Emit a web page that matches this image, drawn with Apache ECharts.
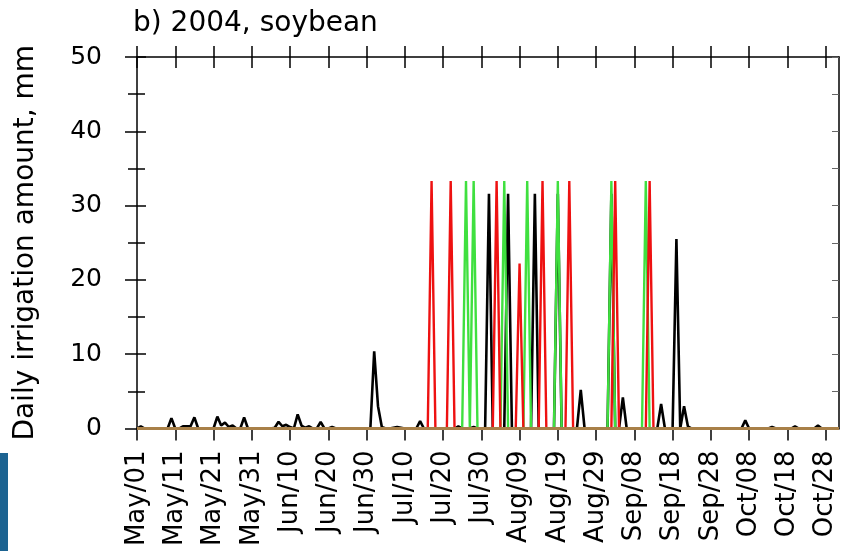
<!DOCTYPE html>
<html>
<head>
<meta charset="utf-8">
<script src="https://cdn.jsdelivr.net/npm/echarts@6/dist/echarts.min.js"></script>
<style>
  html, body { margin: 0; padding: 0; background: #fff; }
  #main { width: 849px; height: 551px; }
</style>
</head>
<body>
<div id="main"></div>
<script>
// tick labels, one every 10 days starting May/01 (day 0)
var tickLabels = ['May/01','May/11','May/21','May/31','Jun/10','Jun/20','Jun/30','Jul/10','Jul/20','Jul/30',
                  'Aug/09','Aug/19','Aug/29','Sep/08','Sep/18','Sep/28','Oct/08','Oct/18','Oct/28'];

// daily irrigation, mm, May/01 .. Oct/31 (184 days), 10 per row
var blackIrr = [
  0, 0.3, 0, 0, 0, 0, 0, 0, 0, 1.4,
  0, 0, 0.3, 0.3, 0.3, 1.5, 0, 0, 0, 0,
  0, 1.6, 0.4, 0.8, 0.2, 0.4, 0, 0, 1.5, 0,
  0, 0, 0, 0, 0, 0, 0.1, 0.9, 0.3, 0.5,
  0.2, 0, 1.9, 0.4, 0.1, 0.3, 0, 0, 0.9, 0,
  0, 0.2, 0, 0, 0, 0, 0, 0, 0, 0,
  0, 0, 10.4, 3.0, 0.2, 0, 0, 0.1, 0.2, 0.1,
  0, 0, 0, 0, 1.0, 0, 0, 0, 0, 0,
  0, 0, 0, 0, 0.3, 0, 0, 0, 0.2, 0,
  0, 0, 31.6, 0, 0, 0, 0, 31.6, 0, 0,
  0, 0, 0, 0, 31.6, 0, 0, 0, 0, 0,
  31.6, 0, 0, 0, 0, 0, 5.2, 0, 0, 0,
  0, 0, 0, 0, 31.6, 0, 0, 4.2, 0, 0,
  0, 0, 0, 0, 0, 0, 0, 3.3, 0, 0,
  0, 25.5, 0, 3.0, 0.3, 0, 0, 0, 0, 0,
  0, 0, 0, 0, 0, 0, 0, 0, 0, 1.1,
  0, 0, 0, 0, 0, 0, 0.2, 0, 0, 0,
  0, 0, 0.3, 0, 0, 0, 0, 0, 0.4, 0,
  0, 0, 0, 0
];
var greenIrr = [
  0, 0, 0, 0, 0, 0, 0, 0, 0, 0,
  0, 0, 0, 0, 0, 0, 0, 0, 0, 0,
  0, 0, 0, 0, 0, 0, 0, 0, 0, 0,
  0, 0, 0, 0, 0, 0, 0, 0, 0, 0,
  0, 0, 0, 0, 0, 0, 0, 0, 0, 0,
  0, 0, 0, 0, 0, 0, 0, 0, 0, 0,
  0, 0, 0, 0, 0, 0, 0, 0, 0, 0,
  0, 0, 0, 0, 0, 0, 0, 0, 0, 0,
  0, 0, 0, 0, 0, 0, 33.3, 0, 33.3, 0,
  0, 0, 0, 0, 0, 0, 33.3, 0, 0, 0,
  0, 0, 33.3, 0, 0, 0, 0, 0, 0, 0,
  33.3, 0, 0, 0, 0, 0, 0, 0, 0, 0,
  0, 0, 0, 0, 33.3, 0, 0, 0, 0, 0,
  0, 0, 0, 33.3, 0, 0, 0, 0, 0, 0,
  0, 0, 0, 0, 0, 0, 0, 0, 0, 0,
  0, 0, 0, 0, 0, 0, 0, 0, 0, 0,
  0, 0, 0, 0, 0, 0, 0, 0, 0, 0,
  0, 0, 0, 0, 0, 0, 0, 0, 0, 0,
  0, 0, 0, 0
];
var redIrr = [
  0, 0, 0, 0, 0, 0, 0, 0, 0, 0,
  0, 0, 0, 0, 0, 0, 0, 0, 0, 0,
  0, 0, 0, 0, 0, 0, 0, 0, 0, 0,
  0, 0, 0, 0, 0, 0, 0, 0, 0, 0,
  0, 0, 0, 0, 0, 0, 0, 0, 0, 0,
  0, 0, 0, 0, 0, 0, 0, 0, 0, 0,
  0, 0, 0, 0, 0, 0, 0, 0, 0, 0,
  0, 0, 0, 0, 0, 0, 0, 33.3, 0, 0,
  0, 0, 33.3, 0, 0, 0, 0, 0, 0, 0,
  0, 0, 0, 0, 33.3, 0, 0, 0, 0, 0,
  22.2, 0, 0, 0, 0, 0, 33.3, 0, 0, 0,
  0, 0, 0, 33.3, 0, 0, 0, 0, 0, 0,
  0, 0, 0, 0, 0, 33.3, 0, 0, 0, 0,
  0, 0, 0, 0, 33.3, 0, 0, 0, 0, 0,
  0, 0, 0, 0, 0, 0, 0, 0, 0, 0,
  0, 0, 0, 0, 0, 0, 0, 0, 0, 0,
  0, 0, 0, 0, 0, 0, 0, 0, 0, 0,
  0, 0, 0, 0, 0, 0, 0, 0, 0, 0,
  0, 0, 0, 0
];

var FONT = 'DejaVu Sans';
var tickDays = tickLabels.map(function(l, i){ return i * 10; });
function pairs(arr){ return arr.map(function(v, d){ return [d, v]; }); }

var chart = echarts.init(document.getElementById('main'));

var xBase = { type: 'value', min: 0, max: 183.5, splitLine: { show: false } };
var lineSt = { color: '#000', width: 1.5 };

chart.setOption({
  animation: false,
  backgroundColor: '#fff',
  title: {
    text: 'b) 2004, soybean',
    left: 133, top: 10, padding: 0,
    textStyle: { fontFamily: FONT, fontSize: 28, fontWeight: 'normal', color: '#000' }
  },
  grid: { left: 137, right: 10, top: 57, bottom: 122.5 },
  xAxis: [
    Object.assign({}, xBase, {
      position: 'bottom', z: 3,
      axisLine: { onZero: false, lineStyle: lineSt },
      axisTick: { length: 12, lineStyle: lineSt, customValues: tickDays },
      axisLabel: {
        rotate: 90, margin: 22, fontFamily: FONT, fontSize: 26, color: '#000',
        customValues: tickDays,
        formatter: function(v){ return tickLabels[Math.round(v / 10)] || ''; }
      }
    }),
    Object.assign({}, xBase, {
      position: 'top', z: 3,
      axisLine: { onZero: false, lineStyle: lineSt },
      axisTick: { inside: true, length: 11, lineStyle: lineSt, customValues: tickDays },
      axisLabel: { show: false }
    }),
    Object.assign({}, xBase, {
      position: 'top', z: 3,
      axisLine: { show: false, onZero: false },
      axisTick: { length: 11, lineStyle: lineSt, customValues: tickDays },
      axisLabel: { show: false }
    })
  ],
  yAxis: [
    {
      type: 'value', min: 0, max: 50, interval: 10, position: 'left', z: 3,
      name: 'Daily irrigation amount, mm', nameLocation: 'middle', nameGap: 97,
      nameTextStyle: { fontFamily: FONT, fontSize: 28, color: '#000' },
      splitLine: { show: false },
      axisLine: { show: true, onZero: false, lineStyle: lineSt },
      axisTick: { length: 12, lineStyle: lineSt },
      minorTick: { show: true, splitNumber: 2, length: 9, lineStyle: lineSt },
      axisLabel: { margin: 35, fontFamily: FONT, fontSize: 25, color: '#000' }
    },
    {
      type: 'value', min: 0, max: 50, interval: 10, position: 'left', z: 3,
      splitLine: { show: false },
      axisLine: { show: false, onZero: false },
      axisTick: { inside: true, length: 9, lineStyle: lineSt },
      minorTick: { show: true, splitNumber: 2, length: 8, lineStyle: lineSt },
      axisLabel: { show: false }
    },
    {
      type: 'value', min: 0, max: 50, interval: 10, position: 'right', z: 3,
      splitLine: { show: false },
      axisLine: { show: true, onZero: false, lineStyle: lineSt },
      axisTick: { inside: true, length: 7, lineStyle: { color: '#666', width: 1 } },
      minorTick: { show: true, splitNumber: 2, length: 7, lineStyle: { color: '#666', width: 1 } },
      axisLabel: { show: false }
    }
  ],
  series: [
    {
      name: 'black', type: 'line', data: pairs(blackIrr), symbol: 'none',
      lineStyle: { color: '#000', width: 2.6 }
    },
    {
      name: 'green', type: 'line', data: pairs(greenIrr), symbol: 'none',
      lineStyle: { color: '#3fe03f', width: 2.4 }
    },
    {
      name: 'red', type: 'line', data: pairs(redIrr), symbol: 'none',
      lineStyle: { color: '#ee1111', width: 2.4 },
      markLine: {
        silent: true, symbol: 'none', label: { show: false },
        lineStyle: { color: '#a88048', width: 3, type: 'solid' },
        data: [{ yAxis: 0 }]
      }
    }
  ],
  graphic: [
    { type: 'rect', shape: { x: 0, y: 453, width: 8, height: 98 }, style: { fill: '#1c6391' } }
  ]
});
</script>
</body>
</html>
